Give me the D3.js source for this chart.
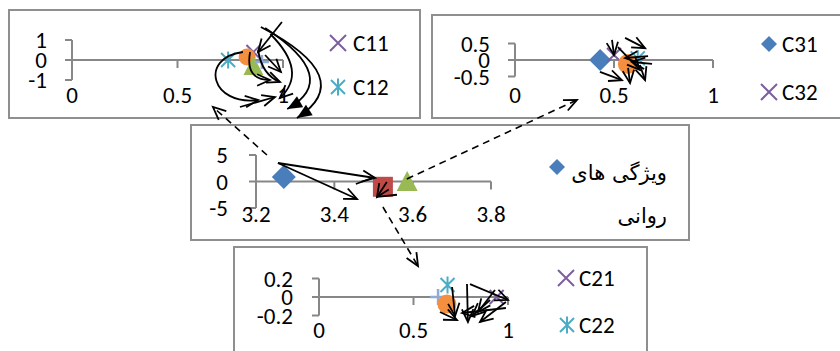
<!DOCTYPE html>
<html><head><meta charset="utf-8">
<script src="https://cdn.jsdelivr.net/npm/d3@7"></script>
<style>body{margin:0;background:#fff}svg{display:block}</style>
</head><body><svg id="c" width="840" height="351"></svg>
<script>
// ---------- DATA ----------
// Panel 1 (top-left)
const p1XTicks = [0, 0.5, 1];
const p1YTicks = [-1, 0, 1];
const p1LegendNames = ["C11", "C12"];
const p1C11 = [[0.86, 0.4]];
const p1C12 = [[0.74, 0.0]];
const p1Circle = [[0.83, 0.15]];
const p1Triangle = [[0.86, -0.3]];
const p1Plus = [[0.9, -0.1]];
const p1Arrows = [
  {pts: [[0.995, 1.9], [0.882, 0.4]], head: "open"},
  {pts: [[0.895, 1.65], [1.36, -0.9], [1.066, -2.9]], head: "filled"},
  {pts: [[0.915, 1.6], [1.28, -0.9], [1.02, -2.45]], head: "filled"},
  {pts: [[0.94, 1.3], [1.12, -0.6], [0.985, -1.9]], head: "open"},
  {pts: [[0.81, 0.4], [0.6, 0.1], [0.66, -2.3], [0.882, -2.0]], head: "open"},
  {pts: [[0.796, -2.35], [0.962, -1.85]], head: "open"},
  {pts: [[0.844, 0.4], [0.82, -1.0], [0.938, -1.0]], head: "open"},
  {pts: [[0.882, 0.5], [0.9, -0.75], [0.986, -1.1]], head: "open"},
  {pts: [[0.915, 0.25], [0.99, -0.6]], head: "open"}
];

// Panel 2 (top-right)
const p2XTicks = [0, 0.5, 1];
const p2YTicks = [-0.5, 0, 0.5];
const p2LegendNames = ["C31", "C32"];
const p2C31 = [[0.43, 0.0]];
const p2C32 = [[0.5, 0.15]];
const p2Star = [[0.62, 0.05]];
const p2Circle = [[0.57, -0.12]];
const p2Arrows = [
  {pts: [[0.49, 0.61], [0.5, 0.15]], head: "open"},
  {pts: [[0.556, 0.67], [0.657, 0.36]], head: "open"},
  {pts: [[0.429, -0.36], [0.54, -0.61]], head: "open"},
  {pts: [[0.571, -0.24], [0.581, -0.7]], head: "open"},
  {pts: [[0.631, -0.15], [0.657, -0.61]], head: "open"},
  {pts: [[0.672, 0.12], [0.556, 0.06]], head: "open"},
  {pts: [[0.692, -0.12], [0.591, -0.06]], head: "open"},
  {pts: [[0.52, 0.39], [0.631, -0.3]], head: "open"}
];

// Panel 3 (middle)
const p3XTicks = [3.2, 3.4, 3.6, 3.8];
const p3YTicks = [-5, 0, 5];
const p3LegendLines = ["ویژگی های", "روانی"];
const p3Diamond = [[3.271, 0.85]];
const p3Square = [[3.524, -1.0]];
const p3Triangle = [[3.586, 0.0]];
const p3Arrows = [
  {pts: [[3.256, 3.49], [3.504, 0.66]], head: "open"},
  {pts: [[3.256, 3.49], [3.458, -3.3]], head: "open"},
  {pts: [[3.455, -0.47], [3.496, 0.66]], head: "none"},
  {pts: [[3.534, -0.09], [3.509, -2.92]], head: "open"},
  {pts: [[3.56, -2.5], [3.509, -2.92]], head: "none"}
];

// Panel 4 (bottom)
const p4XTicks = [0, 0.5, 1];
const p4YTicks = [-0.2, 0, 0.2];
const p4LegendNames = ["C21", "C22"];
const p4C21 = [[0.94, 0.0]];
const p4C22 = [[0.68, 0.13]];
const p4Circle = [[0.677, -0.075]];
const p4Plus = [[0.63, 0.0]];
const p4Arrows = [
  {pts: [[0.799, 0.14], [1.0, -0.032]], head: "open"},
  {pts: [[0.783, 0.14], [0.788, -0.27]], head: "open"},
  {pts: [[0.704, 0.108], [0.72, -0.205]], head: "open"},
  {pts: [[0.989, -0.054], [0.852, -0.27]], head: "open"},
  {pts: [[0.989, -0.119], [0.757, -0.173]], head: "open"},
  {pts: [[0.905, -0.032], [0.81, -0.205]], head: "open"},
  {pts: [[0.64, -0.162], [0.73, -0.249]], head: "open"},
  {pts: [[0.931, 0.076], [0.841, -0.162]], head: "open"}
];

// Dashed connectors: start in panel 3 data, end in target panel data
const linkTo1 = {from: [3.228, 5.0], to: [0.668, -2.35]};
const linkTo2 = {from: [3.585, 0.47], to: [0.313, -1.21]};
const linkTo4 = {from: [3.524, -4.81], to: [0.524, 0.335]};

// ---------- COLOURS / STYLE ----------
const C = {blue: "#4a7ebb", red: "#be4b48", green: "#98b954", purple: "#7d5fa0",
  teal: "#4bacc6", orange: "#f38f3f", lblue: "#8eaad6", grid: "#878787", border: "#8f8f8f"};
const FONT = "Carlito, Calibri, Lato, 'Open Sans', sans-serif";
const FS = 23;

const svg = d3.select("#c");

function panelBox(x0, y0, x1, y1) {
  svg.append("rect").attr("x", x0).attr("y", y0).attr("width", x1 - x0).attr("height", y1 - y0)
    .attr("fill", "#fff").attr("stroke", C.border).attr("stroke-width", 2);
}

function axes(g, sx, sy, xTicks, yTicks, yLabX, xLabY) {
  const x0 = sx(xTicks[0]), x1 = sx(xTicks[xTicks.length - 1]);
  const yTop = sy(yTicks[yTicks.length - 1]), yBot = sy(yTicks[0]);
  const ax = g.append("g").attr("stroke", C.grid).attr("stroke-width", 2).attr("fill", "none");
  ax.append("line").attr("x1", x0).attr("x2", x0).attr("y1", yTop).attr("y2", yBot);
  yTicks.forEach(t => ax.append("line").attr("x1", x0 - 7).attr("x2", x0).attr("y1", sy(t)).attr("y2", sy(t)));
  ax.append("line").attr("x1", x0).attr("x2", x1).attr("y1", sy(0)).attr("y2", sy(0));
  xTicks.slice(1).forEach(t => ax.append("line").attr("x1", sx(t)).attr("x2", sx(t)).attr("y1", sy(0)).attr("y2", sy(0) + 8));
  const tx = g.append("g").attr("font-family", FONT).attr("font-size", FS).attr("fill", "#000");
  yTicks.forEach(t => tx.append("text").attr("x", yLabX).attr("y", sy(t)).attr("dy", "0.36em")
    .attr("text-anchor", "end").text(d3.format("")(t).replace("−", "-")));
  xTicks.forEach(t => tx.append("text").attr("x", sx(t)).attr("y", xLabY).attr("dy", "0.36em")
    .attr("text-anchor", "middle").text(d3.format("")(t).replace("−", "-")));
}

function marker(g, type, cx, cy, s, color) {
  if (type === "x") {
    g.append("path").attr("d", `M${cx - s},${cy - s}L${cx + s},${cy + s}M${cx - s},${cy + s}L${cx + s},${cy - s}`)
      .attr("stroke", color).attr("stroke-width", 2).attr("fill", "none");
  } else if (type === "star") {
    g.append("path").attr("d", `M${cx - s},${cy - s}L${cx + s},${cy + s}M${cx - s},${cy + s}L${cx + s},${cy - s}M${cx},${cy - s * 1.2}L${cx},${cy + s * 1.2}`)
      .attr("stroke", color).attr("stroke-width", 2).attr("fill", "none");
  } else if (type === "plus") {
    g.append("path").attr("d", `M${cx - s},${cy}L${cx + s},${cy}M${cx},${cy - s}L${cx},${cy + s}`)
      .attr("stroke", color).attr("stroke-width", 2.5).attr("fill", "none");
  } else if (type === "circle") {
    g.append("circle").attr("cx", cx).attr("cy", cy).attr("r", s).attr("fill", color);
  } else if (type === "diamond") {
    g.append("path").attr("d", `M${cx},${cy - s}L${cx + s},${cy}L${cx},${cy + s}L${cx - s},${cy}Z`).attr("fill", color);
  } else if (type === "square") {
    g.append("rect").attr("x", cx - s).attr("y", cy - s).attr("width", 2 * s).attr("height", 2 * s).attr("fill", color);
  } else if (type === "triangle") {
    g.append("path").attr("d", `M${cx},${cy - s}L${cx + s},${cy + s * 0.9}L${cx - s},${cy + s * 0.9}Z`).attr("fill", color);
  }
}

function series(g, sx, sy, data, type, s, color) {
  data.forEach(d => marker(g, type, sx(d[0]), sy(d[1]), s, color));
}

function arrowPx(g, P, head, dash) {
  let d = `M${P[0][0]},${P[0][1]}`;
  if (P.length === 2) d += `L${P[1][0]},${P[1][1]}`;
  else if (P.length === 3) d += `Q${P[1][0]},${P[1][1]} ${P[2][0]},${P[2][1]}`;
  else d += `C${P[1][0]},${P[1][1]} ${P[2][0]},${P[2][1]} ${P[3][0]},${P[3][1]}`;
  g.append("path").attr("d", d).attr("fill", "none").attr("stroke", "#000")
    .attr("stroke-width", dash ? 1.6 : 1.8).attr("stroke-dasharray", dash ? "7,5" : null);
  if (head === "none") return;
  const e = P[P.length - 1], p = P[P.length - 2];
  const a = Math.atan2(e[1] - p[1], e[0] - p[0]);
  if (head === "open") {
    const L = 14, w = 0.42;
    const a1 = [e[0] - L * Math.cos(a - w), e[1] - L * Math.sin(a - w)];
    const a2 = [e[0] - L * Math.cos(a + w), e[1] - L * Math.sin(a + w)];
    g.append("path").attr("d", `M${a1}L${e}L${a2}`).attr("fill", "none").attr("stroke", "#000").attr("stroke-width", 1.8);
  } else {
    const L = 16, w = 0.4;
    const a1 = [e[0] - L * Math.cos(a - w), e[1] - L * Math.sin(a - w)];
    const a2 = [e[0] - L * Math.cos(a + w), e[1] - L * Math.sin(a + w)];
    g.append("path").attr("d", `M${a1}L${e}L${a2}Z`).attr("fill", "#000");
  }
}
function arrows(g, sx, sy, list) {
  list.forEach(a => arrowPx(g, a.pts.map(p => [sx(p[0]), sy(p[1])]), a.head, false));
}
function legendText(g, x, y, t) {
  g.append("text").attr("x", x).attr("y", y).attr("dy", "0.36em").attr("font-family", FONT)
    .attr("font-size", FS).attr("fill", "#000").text(t);
}

// ---------- SCALES ----------
const s1x = d3.scaleLinear([0, 1], [72, 283]), s1y = d3.scaleLinear([-1, 1], [80, 40]);
const s2x = d3.scaleLinear([0, 1], [515, 713]), s2y = d3.scaleLinear([-0.5, 0.5], [76.5, 43.5]);
const s3x = d3.scaleLinear([3.2, 3.8], [256, 491]), s3y = d3.scaleLinear([-5, 5], [208, 155]);
const s4x = d3.scaleLinear([0, 1], [319, 508]), s4y = d3.scaleLinear([-0.2, 0.2], [315.5, 278.5]);

// ---------- BOXES ----------
panelBox(9, 10, 420, 118);
panelBox(432, 15, 852, 118);
panelBox(191, 125, 689, 240);
panelBox(234, 247, 647, 362);

// ---------- PANEL 1 ----------
const g1 = svg.append("g");
axes(g1, s1x, s1y, p1XTicks, p1YTicks, 47, 95);
series(g1, s1x, s1y, p1C11, "x", 7, C.purple);
series(g1, s1x, s1y, p1C12, "star", 7, C.teal);
series(g1, s1x, s1y, p1Circle, "circle", 8.5, C.orange);
series(g1, s1x, s1y, p1Triangle, "triangle", 10, C.green);
series(g1, s1x, s1y, p1Plus, "plus", 7, C.lblue);
marker(g1, "x", 338, 43, 8, C.purple); legendText(g1, 353, 43, p1LegendNames[0]);
marker(g1, "star", 338, 87, 7, C.teal); legendText(g1, 353, 87, p1LegendNames[1]);

// ---------- PANEL 2 ----------
const g2 = svg.append("g");
axes(g2, s2x, s2y, p2XTicks, p2YTicks, 490, 95);
series(g2, s2x, s2y, p2C31, "diamond", 11, C.blue);
series(g2, s2x, s2y, p2C32, "x", 7, C.purple);
series(g2, s2x, s2y, p2Star, "star", 7, C.teal);
series(g2, s2x, s2y, p2Circle, "circle", 10, C.orange);
marker(g2, "diamond", 769, 44, 8, C.blue); legendText(g2, 782, 44, p2LegendNames[0]);
marker(g2, "x", 769, 92, 8, C.purple); legendText(g2, 782, 92, p2LegendNames[1]);

// ---------- PANEL 3 ----------
const g3 = svg.append("g");
axes(g3, s3x, s3y, p3XTicks, p3YTicks, 228, 214);
series(g3, s3x, s3y, p3Diamond, "diamond", 12, C.blue);
series(g3, s3x, s3y, p3Square, "square", 10, C.red);
series(g3, s3x, s3y, p3Triangle, "triangle", 10.5, C.green);
marker(g3, "diamond", 557, 167, 8, C.blue);
g3.append("text").attr("x", 667).attr("y", 172).attr("dy", "0.36em").attr("text-anchor", "end")
  .attr("font-family", "'DejaVu Sans', sans-serif").attr("font-size", 21).text(p3LegendLines[0]);
g3.append("text").attr("x", 667).attr("y", 215).attr("dy", "0.36em").attr("text-anchor", "end")
  .attr("font-family", "'DejaVu Sans', sans-serif").attr("font-size", 21).text(p3LegendLines[1]);

// ---------- PANEL 4 ----------
const g4 = svg.append("g");
axes(g4, s4x, s4y, p4XTicks, p4YTicks, 293, 330);
series(g4, s4x, s4y, p4Plus, "plus", 8, C.lblue);
series(g4, s4x, s4y, p4Circle, "circle", 9.5, C.orange);
series(g4, s4x, s4y, p4C22, "star", 7, C.teal);
series(g4, s4x, s4y, p4C21, "x", 7, C.purple);
marker(g4, "x", 566, 278, 8, C.purple); legendText(g4, 579, 278, p4LegendNames[0]);
marker(g4, "star", 567, 325, 7, C.teal); legendText(g4, 579, 325, p4LegendNames[1]);

// ---------- ARROWS ----------
const ga = svg.append("g");
arrows(ga, s1x, s1y, p1Arrows);
arrows(ga, s2x, s2y, p2Arrows);
arrows(ga, s3x, s3y, p3Arrows);
arrows(ga, s4x, s4y, p4Arrows);
arrowPx(ga, [[s3x(linkTo1.from[0]), s3y(linkTo1.from[1])], [s1x(linkTo1.to[0]), s1y(linkTo1.to[1])]], "open", true);
arrowPx(ga, [[s3x(linkTo2.from[0]), s3y(linkTo2.from[1])], [s2x(linkTo2.to[0]), s2y(linkTo2.to[1])]], "open", true);
arrowPx(ga, [[s3x(linkTo4.from[0]), s3y(linkTo4.from[1])], [s4x(linkTo4.to[0]), s4y(linkTo4.to[1])]], "open", true);
</script></body></html>
